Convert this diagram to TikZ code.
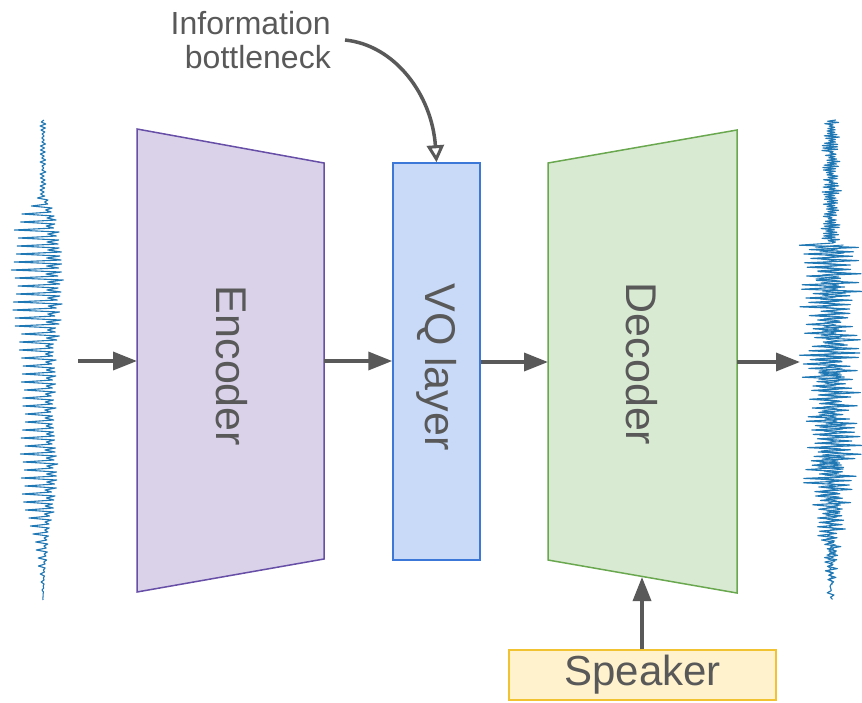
\documentclass[tikz,border=0pt]{standalone}
\usepackage{fontspec}
\setmainfont{Liberation Sans}
\usetikzlibrary{arrows.meta}

\definecolor{ink}{HTML}{595959}
\definecolor{encfill}{HTML}{D9D2E9}
\definecolor{encline}{HTML}{674EA7}
\definecolor{vqfill}{HTML}{C9DAF8}
\definecolor{vqline}{HTML}{3C78D8}
\definecolor{decfill}{HTML}{D9EAD3}
\definecolor{decline}{HTML}{6AA84F}
\definecolor{spkfill}{HTML}{FFF2CC}
\definecolor{spkline}{HTML}{F1C232}
\definecolor{wave}{HTML}{1F77B4}

% half-width envelope of the input signal (argument: vertical position)
\pgfmathdeclarefunction{hwL}{1}{%
  \pgfmathparse{(#1<196) ? 3 : ((#1<217) ? (3+17*(#1-196)/21) : ((#1<250) ? (20+7*(#1-217)/33) : ((#1<310) ? (27-2*(#1-250)/60) : ((#1<343) ? (25-6*(#1-310)/33) : ((#1<410) ? (19-3*(#1-343)/67) : ((#1<477) ? (16+3*(#1-410)/67) : ((#1<510) ? (19-4*(#1-477)/33) : ((#1<543) ? (15-8*(#1-510)/33) : ((#1<577) ? (7-5*(#1-543)/34) : (max(0,2-2*(#1-577)/23))))))))))}%
}
% half-width envelope of the reconstructed signal
\pgfmathdeclarefunction{hwR}{1}{%
  \pgfmathparse{(#1<244) ? 9 : ((#1<340) ? (31-(#1-244)/96) : ((#1<410) ? (30-3*(#1-340)/70) : ((#1<477) ? 27 : ((#1<510) ? (27-8*(#1-477)/33) : ((#1<527) ? (19-5*(#1-510)/17) : ((#1<543) ? (14-5*(#1-527)/16) : ((#1<577) ? (9-5*(#1-543)/34) : (max(0,4-4*(#1-577)/23))))))))}%
}
% alternating sign +1/-1 for sample index
\pgfmathdeclarefunction{alt}{1}{%
  \pgfmathparse{1-2*mod(round(#1),2)}%
}
% four-sample pitch cycle: right, sharp left spike, right, small inward step
\pgfmathdeclarefunction{cyc}{1}{%
  \pgfmathparse{(mod(round(#1),4)==0) ? 0.8 : ((mod(round(#1),4)==1) ? -1 : ((mod(round(#1),4)==2) ? 0.9 : 0.35))}%
}

\begin{document}
\begin{tikzpicture}[x=1pt,y=-1pt,
  flow/.style={draw=ink, line width=3.5pt, -{Triangle[length=24pt,width=18pt]}},
  block/.style={line width=1.5pt, line join=miter},
  biglabel/.style={text=ink, font=\fontsize{43}{51}\selectfont, rotate=-90, inner sep=0pt},
  signal/.style={draw=wave, line width=1.1pt, line join=round}]
\useasboundingbox (0,0) rectangle (862,702);

\pgfmathsetseed{7}
% input waveform
\draw[signal]
  plot[variable=\t, domain=0:38, samples=39]
    ({43 + 3*alt(\t)*(0.2+0.8*rnd)}, {120+2*\t})
  -- plot[variable=\t, domain=0:202, samples=203]
    ({43 - 0.17*hwL(196+2*\t) + 1.1*hwL(196+2*\t)*cyc(\t)*(0.72+0.28*rnd)}, {196+2*\t});

% reconstructed waveform
\draw[signal]
  plot[variable=\t, domain=0:100, samples=101]
    ({831 + 1.5*rand + 9*alt(\t)*(0.2+0.8*rnd)}, {120+1.22*\t})
  -- plot[variable=\t, domain=0:162, samples=163]
    ({831 + 3*rand + 1.08*hwR(243+2.2*\t)*alt(\t)*(0.3+0.7*rnd)}, {243+2.2*\t});
\draw[signal, line width=0.9pt]
  plot[variable=\t, domain=0:170, samples=171]
    ({831 + 2*rand + 0.5*hwR(245+2*\t)*alt(\t)*(0.3+0.7*rnd)}, {245+2*\t});

% encoder and decoder bodies
\draw[block, draw=encline, fill=encfill] (137,129) -- (324,163) -- (324,559) -- (137,592) -- cycle;
\draw[block, draw=decline, fill=decfill] (548,163) -- (737,130) -- (737,593) -- (548,560) -- cycle;

% VQ layer and speaker boxes
\node[block, draw=vqline, fill=vqfill, minimum width=87pt, minimum height=397pt, inner sep=0pt]
  (vq) at (436.5,361.5) {};
\node[block, draw=spkline, fill=spkfill, minimum width=267pt, minimum height=50pt, inner sep=0pt,
  text=ink, font=\fontsize{42}{50}\selectfont] (spk) at (642.5,675) {Speaker};

% rotated labels
\node[biglabel] (enclabel) at (232,366) {Encoder};
\node[biglabel] (vqlabel) at (437,367) {VQ layer};
\node[biglabel] (declabel) at (642,364) {Decoder};

% connection points
\coordinate (inL) at (78,361);
\coordinate (encL) at (137,361);
\coordinate (encR) at (324,361);
\coordinate (decL) at (548,362);
\coordinate (decR) at (737,362);
\coordinate (outR) at (800,362);
\coordinate (decB) at (642,577);

\draw[flow] (inL) -- (encL);
\draw[flow] (encR) -- (vq.west |- encR);
\draw[flow] (vq.east |- decL) -- (decL);
\draw[flow] (decR) -- (outR);
\draw[flow] (spk.north -| decB) -- (decB);

% annotation
\node[anchor=base east, align=right, text=ink, font=\fontsize{32}{34}\selectfont, inner sep=0pt]
  (note) at (331,68) {Information\\bottleneck};
\coordinate (noteEnd) at (345,40);
\draw[draw=ink, line width=3.5pt,
  -{Triangle[open, length=17pt, width=17pt, line width=3pt, fill=white]}]
  (noteEnd) .. controls (395,45) and (432,95) .. (vq.north);
\end{tikzpicture}
\end{document}
